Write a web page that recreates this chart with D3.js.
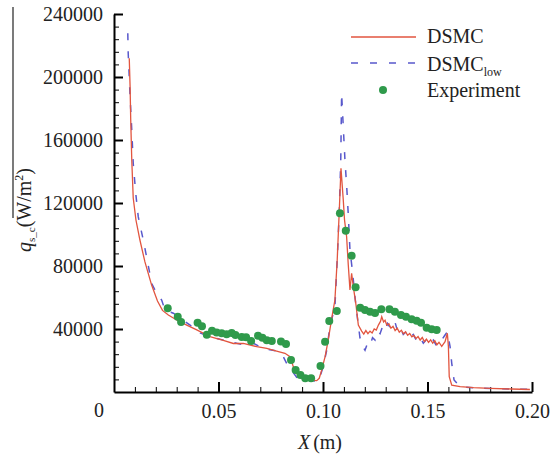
<!DOCTYPE html>
<html>
<head>
<meta charset="utf-8">
<script src="https://cdn.jsdelivr.net/npm/d3@7"></script>
<style>
  body { margin: 0; background: #fff; }
  svg text, svg tspan { font-family: 'Liberation Serif' !important; }
</style>
</head>
<body>
<script>
// DSMC (red solid)
const dsmcX = [0.0073,0.0077,0.0080,0.0085,0.0092,0.0105,0.0124,0.0148,0.0180,0.0208,0.0232,0.0260,0.0300,0.0348,0.0396,0.0459,0.0523,0.0571,0.0619,0.0683,0.0731,0.0778,0.0818,0.0842,0.0858,0.0874,0.0898,0.0938,0.0970,0.0982,0.0994,0.1010,0.1025,0.1042,0.1057,0.1068,0.1078,0.1086,0.1097,0.1103,0.1113,0.1121,0.1129,0.1137,0.1145,0.1158,0.1169,0.1185,0.1195,0.1205,0.1215,0.1225,0.1235,0.1245,0.1255,0.1265,0.1275,0.1281,0.1290,0.1297,0.1305,0.1315,0.1325,0.1335,0.1345,0.1355,0.1365,0.1375,0.1385,0.1395,0.1405,0.1415,0.1425,0.1435,0.1445,0.1455,0.1465,0.1475,0.1485,0.1495,0.1505,0.1515,0.1525,0.1535,0.1545,0.1555,0.1568,0.1584,0.1595,0.1600,0.1604,0.1616,0.1656,0.1720,0.1799,0.1900,0.1990];
const dsmcQ = [211900,193900,172700,147300,123200,109200,96500,82600,67900,57800,51800,48900,45700,42500,39400,35200,32700,30800,30800,28800,27700,26000,24600,22400,16100,11900,9300,7600,7200,8700,14000,22400,33000,47000,58400,83800,115600,142000,121900,109200,98600,80600,64800,75400,66900,55200,42500,38700,36800,39000,37000,38600,37500,40000,39300,42500,44800,47800,44500,45600,42500,43300,40500,41700,39000,40500,38000,39200,37000,38200,36000,37200,35000,35900,34000,35200,33000,34600,32000,33600,31500,33100,31000,32600,30000,31600,29000,31900,37300,28800,9700,4400,3400,2800,2300,1900,1600];

// DSMC_low (blue dashed)
const lowX = [0.0066,0.0068,0.0077,0.0085,0.0092,0.0104,0.0116,0.0140,0.0159,0.0180,0.0204,0.0228,0.0244,0.0284,0.0364,0.0396,0.0459,0.0587,0.0627,0.0667,0.0714,0.0794,0.0810,0.0826,0.0874,0.0938,0.0978,0.1001,0.1018,0.1033,0.1057,0.1068,0.1078,0.1085,0.1089,0.1105,0.1113,0.1121,0.1129,0.1142,0.1153,0.1164,0.1177,0.1190,0.1201,0.1213,0.1225,0.1237,0.1249,0.1261,0.1273,0.1285,0.1297,0.1309,0.1321,0.1333,0.1344,0.1356,0.1368,0.1384,0.1400,0.1416,0.1432,0.1448,0.1464,0.1480,0.1496,0.1512,0.1528,0.1544,0.1560,0.1584,0.1595,0.1608,0.1616,0.1627,0.1656,0.1719,0.1850,0.1990];
const lowQ = [227800,215100,187500,166400,145200,126200,111300,96500,83800,69000,62700,58400,52100,50000,42500,38300,35100,30900,29800,30900,27700,25600,22400,18200,9300,7600,6500,16100,26700,41500,54200,83800,115600,147300,189700,147300,131400,112400,90200,75400,60300,47800,34300,29000,26500,31000,29500,34500,33000,38500,37000,41500,39000,43500,41000,45000,44600,39000,41500,36500,38500,34500,36500,32500,35000,31000,33500,30500,33000,29000,31500,36200,38300,28800,18200,7600,3400,2700,2000,1700];

// Experiment (green dots)
const expX = [0.0257,0.0305,0.0321,0.0400,0.0421,0.0444,0.0469,0.0491,0.0515,0.0539,0.0563,0.0581,0.0611,0.0632,0.0656,0.0689,0.0710,0.0731,0.0755,0.0799,0.0823,0.0847,0.0869,0.0892,0.0915,0.0943,0.0988,0.1010,0.1030,0.1066,0.1081,0.1109,0.1137,0.1156,0.1178,0.1201,0.1225,0.1249,0.1279,0.1318,0.1344,0.1373,0.1397,0.1424,0.1448,0.1469,0.1496,0.1520,0.1544];
const expQ = [53100,47800,44400,43900,41700,36400,38900,37800,37300,36700,37500,36200,34900,34700,32400,35700,34500,32800,32400,32100,30500,20300,14000,10800,8700,8700,16500,31900,45100,51400,113500,102400,86500,66500,53500,52100,51000,50200,52500,52500,51000,48900,47800,46200,45300,44000,40800,39800,39400];

const xMajor = [0.05, 0.10, 0.15, 0.20];
const yMajor = [40000, 80000, 120000, 160000, 200000, 240000];

const svg = d3.select('body')
  .append('svg')
  .attr('width', 558)
  .attr('height', 456);

const x = d3.scaleLinear().domain([0, 0.2]).range([114, 532]);
const y = d3.scaleLinear().domain([0, 240000]).range([392, 14]);

const red = '#e2553f', blue = '#5858cc', green = '#2f9a4b';

// Axes
const xMinor = d3.range(1, 20).map(i => i / 100).filter(v => Math.round(v * 100) % 5 !== 0);
const yMinor = d3.range(8000, 240000, 8000).filter(v => v % 40000 !== 0);

svg.append('g')
  .attr('transform', `translate(0,${y(0)})`)
  .call(d3.axisBottom(x).tickValues(xMinor).tickSize(-5).tickSizeOuter(0).tickFormat(''))
  .call(g => g.select('.domain').remove())
  .selectAll('line').attr('stroke-width', 1);

svg.append('g')
  .attr('transform', `translate(${x(0)},0)`)
  .call(d3.axisLeft(y).tickValues(yMinor).tickSize(-5).tickSizeOuter(0).tickFormat(''))
  .call(g => g.select('.domain').remove())
  .selectAll('line').attr('stroke-width', 1);

const xAxis = svg.append('g')
  .attr('transform', `translate(0,${y(0)})`)
  .call(d3.axisBottom(x).tickValues(xMajor).tickSize(-10).tickSizeOuter(0)
    .tickPadding(12).tickFormat(d3.format('.2f')));

const yAxis = svg.append('g')
  .attr('transform', `translate(${x(0)},0)`)
  .call(d3.axisLeft(y).tickValues(yMajor).tickSize(-9).tickSizeOuter(0)
    .tickPadding(11).tickFormat(d3.format('d')));

[xAxis, yAxis].forEach(a => {
  a.attr('font-size', 20);
  a.select('.domain').attr('stroke-width', 2);
  a.selectAll('line').attr('stroke-width', 2);
  a.selectAll('text').attr('fill', '#222');
});

svg.append('text')
  .attr('x', x(0) - 10)
  .attr('y', y(0) + 25)
  .attr('text-anchor', 'end')
  .attr('font-size', 20)
  .attr('fill', '#222')
  .text('0');

// Curves
const line = (xs, qs) => d3.line()
  .x((d, i) => x(xs[i]))
  .y(d => y(d))(qs);

svg.append('path')
  .attr('d', line(lowX, lowQ))
  .attr('fill', 'none')
  .attr('stroke', blue)
  .attr('stroke-width', 1.5)
  .attr('stroke-dasharray', '7,11');

svg.append('path')
  .attr('d', line(dsmcX, dsmcQ))
  .attr('fill', 'none')
  .attr('stroke', red)
  .attr('stroke-width', 1.3);

svg.selectAll('circle.exp')
  .data(expQ)
  .join('circle')
  .attr('class', 'exp')
  .attr('cx', (d, i) => x(expX[i]))
  .attr('cy', d => y(d))
  .attr('r', 4)
  .attr('fill', green);

// Legend
const legend = svg.append('g').attr('transform', 'translate(351,0)');

legend.append('line')
  .attr('x1', 0).attr('x2', 65).attr('y1', 37).attr('y2', 37)
  .attr('stroke', red).attr('stroke-width', 1.5);
legend.append('text')
  .attr('x', 76).attr('y', 43)
  .attr('font-size', 20).attr('fill', '#222')
  .text('DSMC');

legend.append('line')
  .attr('x1', 0).attr('x2', 65).attr('y1', 63).attr('y2', 63)
  .attr('stroke', blue).attr('stroke-width', 1.5)
  .attr('stroke-dasharray', '7,12');
const lowLabel = legend.append('text')
  .attr('x', 76).attr('y', 71)
  .attr('font-size', 20).attr('fill', '#222');
lowLabel.append('tspan').text('DSMC');
lowLabel.append('tspan').attr('dy', 5).attr('font-size', 12).text('low');

legend.append('circle')
  .attr('cx', 32).attr('cy', 90).attr('r', 4).attr('fill', green);
legend.append('text')
  .attr('x', 76).attr('y', 97)
  .attr('font-size', 20).attr('fill', '#222')
  .text('Experiment');

// Axis titles
const xTitle = svg.append('text')
  .attr('x', 320).attr('y', 449)
  .attr('text-anchor', 'middle')
  .attr('font-size', 20).attr('fill', '#222');
xTitle.append('tspan').attr('font-style', 'italic').text('X');
xTitle.append('tspan').attr('dx', 3).text('(m)');

const yTitle = svg.append('text')
  .attr('transform', 'translate(31,210) rotate(-90)')
  .attr('text-anchor', 'middle')
  .attr('font-size', 20).attr('fill', '#222');
yTitle.append('tspan').attr('font-style', 'italic').text('q');
yTitle.append('tspan').attr('dy', 4).attr('font-size', 11).text('s_c');
yTitle.append('tspan').attr('dy', -4).text('(W/m');
yTitle.append('tspan').attr('dy', -8).attr('font-size', 12).text('2');
yTitle.append('tspan').attr('dy', 8).text(')');

svg.append('line')
  .attr('x1', 13).attr('x2', 13).attr('y1', 7).attr('y2', 218)
  .attr('stroke', '#222').attr('stroke-width', 1.2);

svg.selectAll('text').attr('font-family', 'Liberation Serif');
</script>
</body>
</html>
